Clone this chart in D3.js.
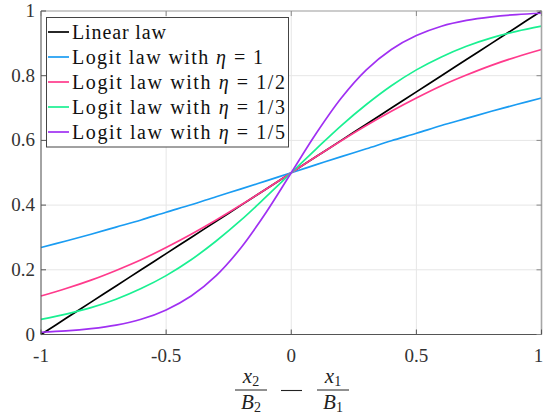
<!DOCTYPE html>
<html><head><meta charset="utf-8">
<script src="https://cdn.jsdelivr.net/npm/d3@7"></script>
<style>html,body{margin:0;padding:0;background:#fff;}svg{display:block;}
text{font-family:"Liberation Serif","DejaVu Serif",serif;}
</style>
</head><body>
<svg id="c" width="545" height="417"></svg>
<script>
const xs = [-1,-0.9,-0.8,-0.7,-0.6,-0.5,-0.4,-0.3,-0.2,-0.1,0,0.1,0.2,0.3,0.4,0.5,0.6,0.7,0.8,0.9,1];
const linearLaw = [0,0.05,0.1,0.15,0.2,0.25,0.3,0.35,0.4,0.45,0.5,0.55,0.6,0.65,0.7,0.75,0.8,0.85,0.9,0.95,1];
const logitEta1 = [0.269,0.289,0.310,0.332,0.354,0.378,0.401,0.426,0.450,0.475,0.5,0.525,0.550,0.574,0.599,0.622,0.646,0.668,0.690,0.711,0.731];
const logitEtaHalf = [0.119,0.142,0.168,0.198,0.231,0.269,0.310,0.354,0.401,0.450,0.5,0.550,0.599,0.646,0.690,0.731,0.769,0.802,0.832,0.858,0.881];
const logitEtaThird = [0.047,0.063,0.083,0.109,0.142,0.182,0.231,0.289,0.354,0.426,0.5,0.574,0.646,0.711,0.769,0.818,0.858,0.891,0.917,0.937,0.953];
const logitEtaFifth = [0.007,0.011,0.018,0.029,0.047,0.076,0.119,0.182,0.269,0.378,0.5,0.622,0.731,0.818,0.881,0.924,0.953,0.971,0.982,0.989,0.993];
const seriesNames = ["Linear law","Logit law with η = 1","Logit law with η = 1/2","Logit law with η = 1/3","Logit law with η = 1/5"];
const xTicks = [-1,-0.5,0,0.5,1];
const xTickLabels = ["-1","-0.5","0","0.5","1"];
const yTicks = [0,0.2,0.4,0.6,0.8,1];
const yTickLabels = ["0","0.2","0.4","0.6","0.8","1"];

const seriesValues = [linearLaw, logitEta1, logitEtaHalf, logitEtaThird, logitEtaFifth];
const colors = ["#000000","#1a9cf2","#ff3a8c","#1af092","#a030f2"];
const legendWidths = [94, 191, 213, 213, 213];

const svg = d3.select("#c");
const L = 41, R = 541.5, T = 11, B = 334.5;
const x = d3.scaleLinear().domain([-1,1]).range([L,R]);
const y = d3.scaleLinear().domain([0,1]).range([B,T]);

const g = svg.append("g");
g.selectAll(".gx").data(xTicks).enter().append("line")
  .attr("x1",d=>x(d)).attr("x2",d=>x(d)).attr("y1",T).attr("y2",B)
  .attr("stroke","#e6e6e6").attr("stroke-width",1);
g.selectAll(".gy").data(yTicks).enter().append("line")
  .attr("x1",L).attr("x2",R).attr("y1",d=>y(d)).attr("y2",d=>y(d))
  .attr("stroke","#e6e6e6").attr("stroke-width",1);

const line = d3.line().x((d,i)=>x(xs[i])).y(d=>y(d)).curve(d3.curveCatmullRom.alpha(0.5));
seriesValues.forEach((vals,k)=>{
  svg.append("path").datum(vals).attr("d",line)
    .attr("fill","none").attr("stroke",colors[k]).attr("stroke-width",1.7);
});

const ax = svg.append("g");
ax.append("line").attr("x1",L).attr("x2",R).attr("y1",T).attr("y2",T).attr("stroke","#a6a6a6").attr("stroke-width",1.2);
ax.append("line").attr("x1",R).attr("x2",R).attr("y1",T).attr("y2",B).attr("stroke","#a6a6a6").attr("stroke-width",1.6);
ax.append("line").attr("x1",L).attr("x2",R).attr("y1",B).attr("y2",B).attr("stroke","#555").attr("stroke-width",1);
ax.append("line").attr("x1",L).attr("x2",L).attr("y1",T).attr("y2",B).attr("stroke","#555").attr("stroke-width",1);

const tk = 5;
xTicks.forEach(v=>{
  ax.append("line").attr("x1",x(v)).attr("x2",x(v)).attr("y1",B).attr("y2",B-tk).attr("stroke","#555");
  ax.append("line").attr("x1",x(v)).attr("x2",x(v)).attr("y1",T).attr("y2",T+tk).attr("stroke","#888");
});
yTicks.forEach(v=>{
  ax.append("line").attr("x1",L).attr("x2",L+tk).attr("y1",y(v)).attr("y2",y(v)).attr("stroke","#555");
  ax.append("line").attr("x1",R).attr("x2",R-tk).attr("y1",y(v)).attr("y2",y(v)).attr("stroke","#888");
});

svg.selectAll(".xl").data(xTicks).enter().append("text")
  .attr("x",d=>Math.min(x(d),538.5)).attr("y",B+27).attr("text-anchor","middle")
  .attr("font-size",19).attr("fill","#333")
  .text((d,i)=>xTickLabels[i]);
svg.selectAll(".yl").data(yTicks).enter().append("text")
  .attr("x",L-6).attr("y",d=>y(d)+6).attr("text-anchor","end")
  .attr("font-size",19).attr("fill","#333")
  .text((d,i)=>yTickLabels[i]);

const lg = svg.append("g");
lg.append("rect").attr("x",46.5).attr("y",17.5).attr("width",242).attr("height",129.5)
  .attr("fill","#fff").attr("stroke","#444").attr("stroke-width",1);
seriesNames.forEach((nm,k)=>{
  const cy = 32 + k*25;
  lg.append("line").attr("x1",48).attr("x2",69).attr("y1",cy).attr("y2",cy)
    .attr("stroke",colors[k]).attr("stroke-width",1.7);
  const t = lg.append("text").attr("x",72).attr("y",cy+6.5)
    .attr("font-size",20).attr("fill","#111")
    .attr("textLength",legendWidths[k]).attr("lengthAdjust","spacing");
  if(k===0){ t.text(nm); }
  else {
    const parts = nm.split("η");
    t.append("tspan").text(parts[0]);
    t.append("tspan").attr("font-style","italic").text("η");
    t.append("tspan").text(parts[1]);
  }
});

const xl = svg.append("g").attr("fill","#222");
function frac(cx, num, den, sub){
  const n = xl.append("text").attr("x",cx).attr("y",383).attr("text-anchor","middle").attr("font-size",21);
  n.append("tspan").attr("font-style","italic").text(num);
  n.append("tspan").attr("font-size",14).attr("dy",3).text(sub);
  const d = xl.append("text").attr("x",cx).attr("y",409).attr("text-anchor","middle").attr("font-size",21);
  d.append("tspan").attr("font-style","italic").text(den);
  d.append("tspan").attr("font-size",14).attr("dy",3).text(sub);
  xl.append("line").attr("x1",cx-16).attr("x2",cx+16).attr("y1",390).attr("y2",390).attr("stroke","#222").attr("stroke-width",1);
}
frac(251,"x","B","2");
xl.append("line").attr("x1",281).attr("x2",302).attr("y1",390.5).attr("y2",390.5).attr("stroke","#222").attr("stroke-width",1.1);
frac(333,"x","B","1");
</script>
</body></html>
